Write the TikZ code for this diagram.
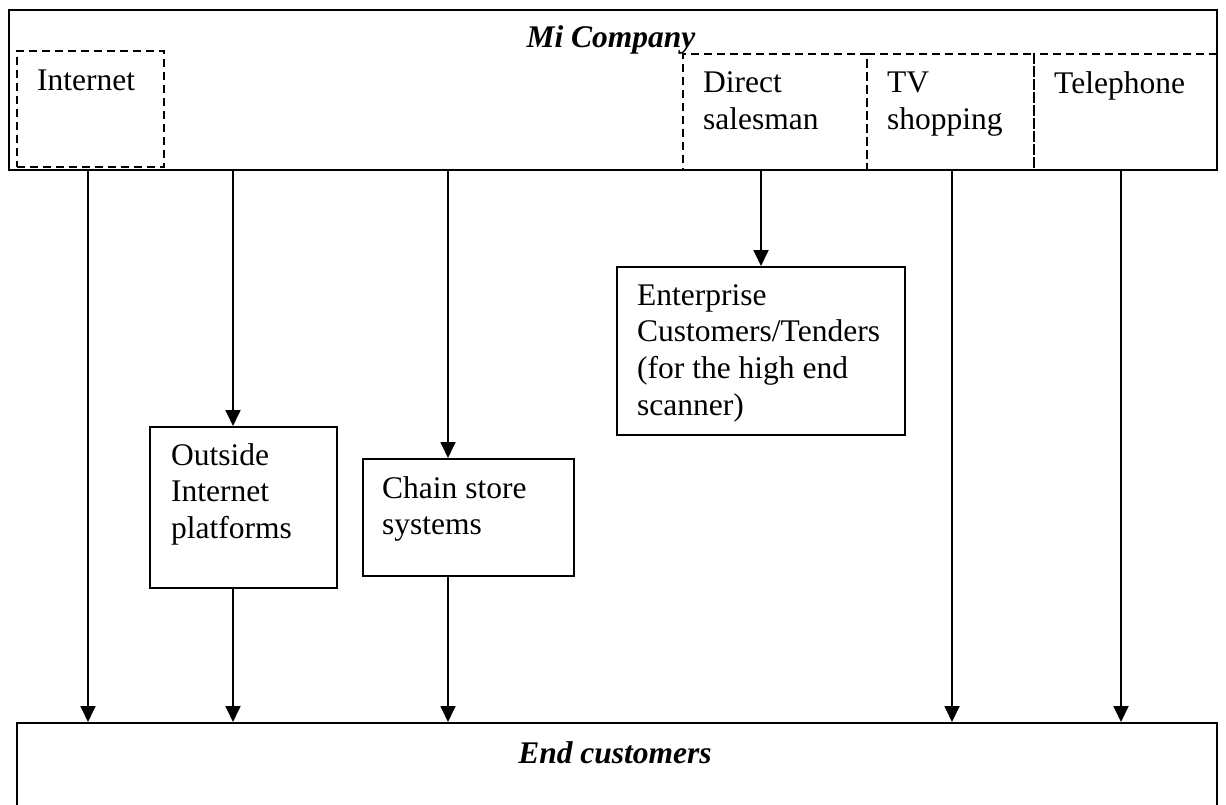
\documentclass[tikz,border=0pt]{standalone}
\usepackage{fontspec}
\setmainfont{Liberation Serif}
\usetikzlibrary{arrows.meta}

\newcommand{\lines}[1]{\begin{tabular}[t]{@{}l@{}}#1\end{tabular}}

\begin{document}
\begin{tikzpicture}[x=1pt,y=-1pt,
  every node/.style={font=\fontsize{31.5}{36.7}\selectfont},
  frame/.style={draw, line width=2pt, inner sep=0pt, anchor=north west},
  dashbox/.style={draw, line width=2pt, dash pattern=on 8pt off 5pt,
    inner sep=0pt, anchor=north west},
  lbl/.style={anchor=base west, inner sep=0pt},
  heading/.style={anchor=base, inner sep=0pt,
    font=\fontsize{31.5}{36.7}\selectfont\bfseries\itshape},
  flow/.style={line width=1.8pt, -{Triangle[width=15pt,length=16pt]}},
]
\useasboundingbox (0,0) rectangle (1226,805);
\clip (0,0) rectangle (1226,805);

% company frame with its sales channels
\node[frame, line width=2.4pt, minimum width=1208pt, minimum height=160pt]
  (company) at (8,9) {};
\node[heading] (title) at (611,48) {Mi Company};

\node[dashbox, minimum width=147pt, minimum height=116pt] (internet) at (16,50) {};
\node[dashbox, minimum width=184pt, minimum height=116pt] (direct) at (682,53) {};
\node[dashbox, minimum width=167pt, minimum height=116pt] (tv) at (866,53) {};
\node[dashbox, minimum width=183pt, minimum height=116pt] (phone) at (1033,53) {};

\node[lbl] (internet-t) at (37,91) {Internet};
\node[lbl] (direct-t) at (703,93) {\lines{Direct\\salesman}};
\node[lbl] (tv-t) at (887,93) {\lines{TV\\shopping}};
\node[lbl] (phone-t) at (1054,94) {Telephone};

% intermediaries
\node[frame, minimum width=187pt, minimum height=161pt] (outside) at (149,426) {};
\node[lbl] (outside-t) at (171,465) {\lines{Outside\\Internet\\platforms}};

\node[frame, minimum width=211pt, minimum height=117pt] (chain) at (362,458) {};
\node[lbl] (chain-t) at (382,498) {\lines{Chain store\\systems}};

\node[frame, minimum width=288pt, minimum height=168pt] (enterprise) at (616,266) {};
\node[lbl] (enterprise-t) at (637,305)
  {\lines{Enterprise\\Customers/Tenders\\(for the high end\\scanner)}};

% end customers (runs off the lower edge)
\node[frame, minimum width=1200pt, minimum height=120pt] (endc) at (16,722) {};
\node[heading] (endc-t) at (615,763) {End customers};

% channels
\draw[flow] (company.south -| 88,0) -- (endc.north -| 88,0);
\draw[flow] (company.south -| 233,0) -- (outside.north -| 233,0);
\draw[flow] (company.south -| 448,0) -- (chain.north -| 448,0);
\draw[flow] (company.south -| enterprise.north) -- (enterprise.north);
\draw[flow] (company.south -| 952,0) -- (endc.north -| 952,0);
\draw[flow] (company.south -| 1121,0) -- (endc.north -| 1121,0);
\draw[flow] (outside.south -| 233,0) -- (endc.north -| 233,0);
\draw[flow] (chain.south -| 448,0) -- (endc.north -| 448,0);
\end{tikzpicture}
\end{document}
